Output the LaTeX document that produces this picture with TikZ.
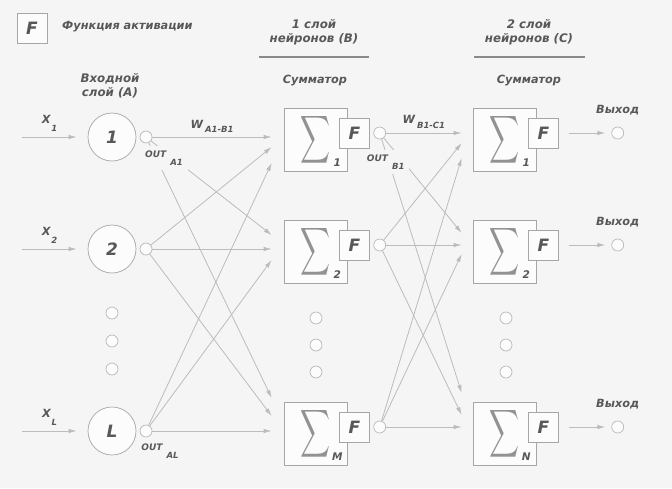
\documentclass[tikz,border=0pt]{standalone}
\usepackage{fontspec}
\setmainfont{DejaVu Sans}
\usepackage{graphicx}
\usetikzlibrary{arrows.meta,calc,positioning}

\definecolor{bg}{HTML}{F5F5F5}
\definecolor{paper}{HTML}{FCFCFC}
\definecolor{frame}{HTML}{A6A6A6}
\definecolor{wire}{HTML}{BCBCBC}
\definecolor{ink}{HTML}{585858}
\definecolor{rulegray}{HTML}{8A8A8A}

\newcommand{\lowsub}[3]{\hspace{#1}\raisebox{#2}{\fontsize{8.5}{8.5}\selectfont #3}}
\newcommand{\bigsum}{\resizebox{30pt}{35pt}{$\displaystyle\sum$}}

\begin{document}
\begin{tikzpicture}[x=1pt,y=-1pt,>={Latex[length=8pt,width=4.5pt]},
    txt/.style={text=ink,inner sep=0pt,font=\bfseries\itshape\fontsize{11.3}{14}\selectfont},
    head/.style={txt,align=center,font=\bfseries\itshape\fontsize{11.8}{14}\selectfont},
    outl/.style={txt,fill=bg,inner sep=5pt,font=\bfseries\itshape\fontsize{9}{10}\selectfont},
    idx/.style={txt,font=\bfseries\itshape\fontsize{10.5}{10.5}\selectfont},
    neuron/.style={circle,draw=frame,fill=paper,line width=0.7pt,minimum size=48pt,inner sep=0pt,
      text=ink,font=\bfseries\itshape\fontsize{17}{17}\selectfont},
    port/.style={circle,draw=frame!80,fill=paper,line width=0.7pt,minimum size=12pt,inner sep=0pt},
    sumbox/.style={rectangle,draw=frame,fill=paper,line width=0.7pt,minimum size=63pt,inner sep=0pt},
    fbox/.style={rectangle,draw=frame,fill=paper,line width=0.7pt,minimum size=30pt,inner sep=0pt,
      text=ink,font=\bfseries\itshape\fontsize{17}{17}\selectfont},
    sigma/.style={text=ink!65,inner sep=0pt},
    wire/.style={->,color=wire,line width=0.8pt},
    rule/.style={draw=rulegray,line width=1.2pt}]
  \fill[bg] (0,0) rectangle (672,488);
  \useasboundingbox (0,0) rectangle (672,488);

  % legend and headers
  \node[fbox] (fleg) at (32,28) {F};
  \node[txt,anchor=west] (leg) at (62,27) {Функция активации};
  \node[head] (hb) at (314,32) {1 слой\\нейронов (В)};
  \node[head] (hc) at (529,32) {2 слой\\нейронов (С)};
  \draw[rule] ($(hb)+(-55,25)$) -- ($(hb)+(55,25)$);
  \draw[rule] ($(hc)+(-55,25)$) -- ($(hc)+(56,25)$);
  \node[head] (ha) at (110,86) {Входной\\слой (А)};
  \node[txt] (sb) at (315,81) {Сумматор};
  \node[txt] (sc) at (529,81) {Сумматор};

  % input layer A
  \node[neuron] (a1) at (112,137) {1};
  \node[neuron] (a2) at (112,249) {2};
  \node[neuron] (aL) at (112,431) {L};
  \node[port] (oa1) at (146,137) {};
  \node[port] (oa2) at (146,249) {};
  \node[port] (oaL) at (146,431) {};
  \coordinate (x1) at (22,137);
  \coordinate (x2) at (22,249);
  \coordinate (xL) at (22,431);

  % layer B
  \node[sumbox] (b1) at (315.5,139.5) {};
  \node[sumbox] (b2) at (315.5,251.5) {};
  \node[sumbox] (bM) at (315.5,433.5) {};
  \foreach \n/\k in {b1/1,b2/2,bM/M}{
    \node[sigma] (s\n) at ($(\n)+(0,0)$) {\bigsum};
    \node[idx] (i\n) at ($(\n.south east)+(-10,-9)$) {\k};
    \node[fbox] (f\n) at ($(\n.east)+(7,-6.5)$) {F};
    \node[port] (o\n) at ($(f\n.east)+(10,0)$) {};
  }

  % layer C
  \node[sumbox] (c1) at (504.5,139.5) {};
  \node[sumbox] (c2) at (504.5,251.5) {};
  \node[sumbox] (cN) at (504.5,433.5) {};
  \foreach \n/\k in {c1/1,c2/2,cN/N}{
    \node[sigma] (s\n) at ($(\n)+(0,0)$) {\bigsum};
    \node[idx] (i\n) at ($(\n.south east)+(-10,-9)$) {\k};
    \node[fbox] (f\n) at ($(\n.east)+(7,-6.5)$) {F};
    \node[port] (y\n) at ($(f\n.east)+(59,0)$) {};
    \node[txt,above=11pt of y\n] (v\n) {Выход};
  }

  % dots between neurons
  \foreach \x/\y [count=\i] in {112/313,112/341,112/369,316/318,316/345,316/372,506/318,506/345,506/372}
    \node[port] (dot\i) at (\x,\y) {};

  % inputs
  \draw[wire,shorten >=11pt] (x1) -- node[txt,pos=0.42,above=5pt] (xl1) {X\lowsub{1pt}{-8pt}{1}} (a1);
  \draw[wire,shorten >=11pt] (x2) -- node[txt,pos=0.42,above=5pt] (xl2) {X\lowsub{1pt}{-8pt}{2}} (a2);
  \draw[wire,shorten >=11pt] (xL) -- node[txt,pos=0.42,above=5pt] (xlL) {X\lowsub{1pt}{-8pt}{L}} (aL);

  % A -> B
  \path[wire] (oa1) edge node[txt,above=4pt] (wab) {W\lowsub{2pt}{-4.5pt}{A1-B1}} ($(b1.west)+(-12,-2.5)$)
                    edge ($(b2.west)+(-12,-16.5)$)
                    edge ($(bM.west)+(-12,-35.5)$)
              (oa2) edge ($(b1.west)+(-12,7.5)$)
                    edge ($(b2.west)+(-12,-2.5)$)
                    edge ($(bM.west)+(-12,-17.5)$)
              (oaL) edge ($(b1.west)+(-12,23.5)$)
                    edge ($(b2.west)+(-12,8.5)$)
                    edge ($(bM.west)+(-12,-2.5)$);

  % B -> C
  \path[wire] (ob1) edge node[txt,above=4pt] (wbc) {W\lowsub{2pt}{-4.5pt}{B1-C1}} ($(c1.west)+(-11,-6.5)$)
                    edge ($(c2.west)+(-11,-18.5)$)
                    edge ($(cN.west)+(-11,-40.5)$)
              (ob2) edge ($(c1.west)+(-11,3.5)$)
                    edge ($(c2.west)+(-11,-6.5)$)
                    edge ($(cN.west)+(-11,-18.5)$)
              (obM) edge ($(c1.west)+(-11,18.5)$)
                    edge ($(c2.west)+(-11,2.5)$)
                    edge ($(cN.west)+(-11,-6.5)$);

  % outputs
  \path[wire,shorten <=10pt,shorten >=6pt] (fc1) edge (yc1)
                                           (fc2) edge (yc2)
                                           (fcN) edge (ycN);

  % OUT labels on top of the wires
  \node[outl] (outa1) at ($(oa1)+(18,21)$) {OUT\lowsub{4pt}{-8pt}{A1}};
  \node[outl] (outaL) at ($(oaL)+(14,20)$) {OUT\lowsub{4pt}{-8pt}{AL}};
  \node[outl] (outb1) at ($(ob1)+(6,29)$) {OUT\lowsub{4pt}{-8pt}{B1}};
\end{tikzpicture}
\end{document}
